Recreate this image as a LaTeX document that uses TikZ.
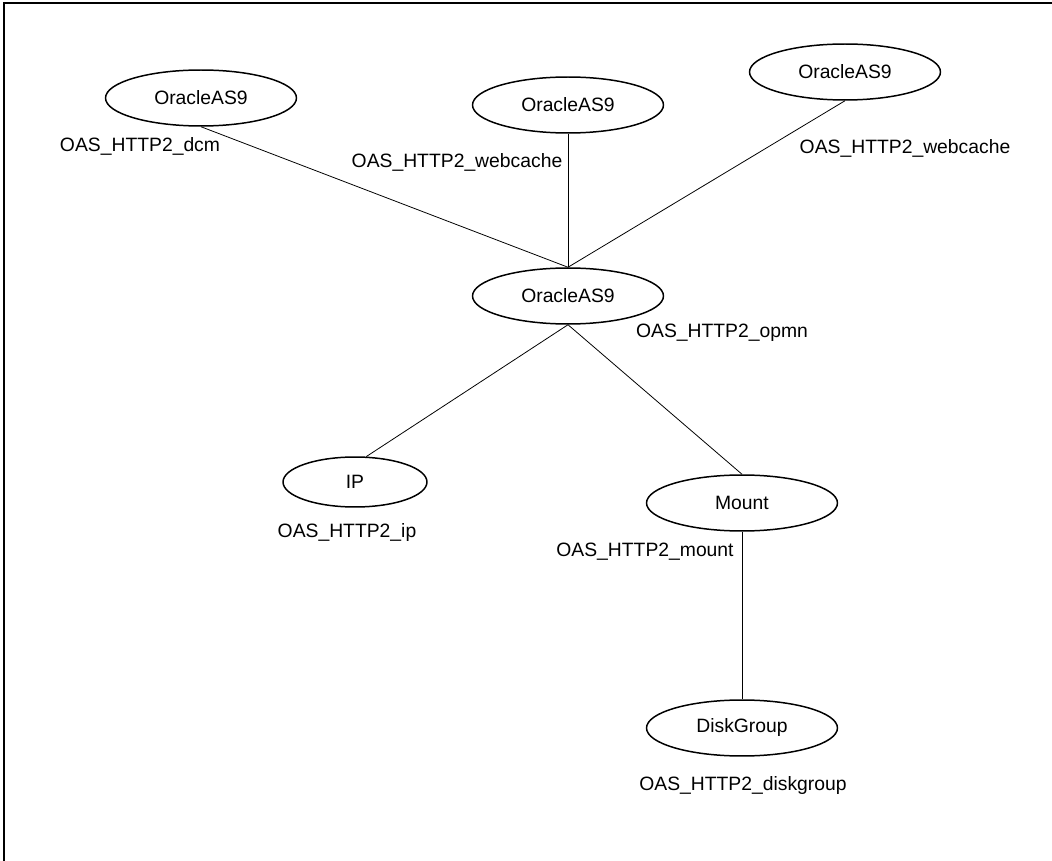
\documentclass[tikz,border=0pt]{standalone}
\usepackage{fontspec}
\setmainfont{Liberation Sans}
\usepackage{tikz}
\tikzset{
	res/.style={
			draw, ellipse, line width=0.85pt,
			minimum width=3.82cm, minimum height=1.12cm,
			inner sep=0pt, font=\fontsize{11}{12}\selectfont
		},
	reslbl/.style={inner sep=0pt, font=\fontsize{11}{12}\selectfont},
	link/.style={line width=0.45pt}
}
\usetikzlibrary{shapes.geometric}

\begin{document}
\begin{tikzpicture}[x=0.02cm, y=-0.02cm]
		\useasboundingbox (0, 0) rectangle (1052, 861);
		\draw [line width=1.1pt]	(4, 861) -- (4, 3) -- (1052, 3);

		\node [res] (dcm)	at (201, 98)	{OracleAS9};
		\node [res] (webmid)	at (568, 105)	{OracleAS9};
		\node [res] (webright)	at (845, 72)	{OracleAS9};
		\node [res] (opmn)	at (568, 296)	{OracleAS9};
		\node [res, minimum width=2.88cm, minimum height=1.0cm] (ip)	at (355, 482)	{IP};
		\node [res] (mount)	at (742, 503)	{Mount};
		\node [res] (disk)	at (742, 728)	{DiskGroup};

		\node [reslbl] (dcmlbl)	at (140, 146)	{OAS\_HTTP2\_dcm};
		\node [reslbl] (webmidlbl)	at (457, 162)	{OAS\_HTTP2\_webcache};
		\node [reslbl] (webrightlbl)	at (905, 148)	{OAS\_HTTP2\_webcache};
		\node [reslbl] (opmnlbl)	at (722, 333)	{OAS\_HTTP2\_opmn};
		\node [reslbl] (iplbl)	at (347, 533)	{OAS\_HTTP2\_ip};
		\node [reslbl] (mountlbl)	at (645, 552)	{OAS\_HTTP2\_mount};
		\node [reslbl] (disklbl)	at (743, 786)	{OAS\_HTTP2\_diskgroup};

		\draw [link]	(dcm.south) -- (opmn.north);
		\draw [link]	(webmid.south) -- (opmn.north);
		\draw [link]	(webright.south) -- (opmn.north);
		\draw [link]	(opmn.south) -- (ip.66);
		\draw [link]	(opmn.south) -- (mount.north);
		\draw [link]	(mount.south) -- (disk.north);
	\end{tikzpicture}
\end{document}
